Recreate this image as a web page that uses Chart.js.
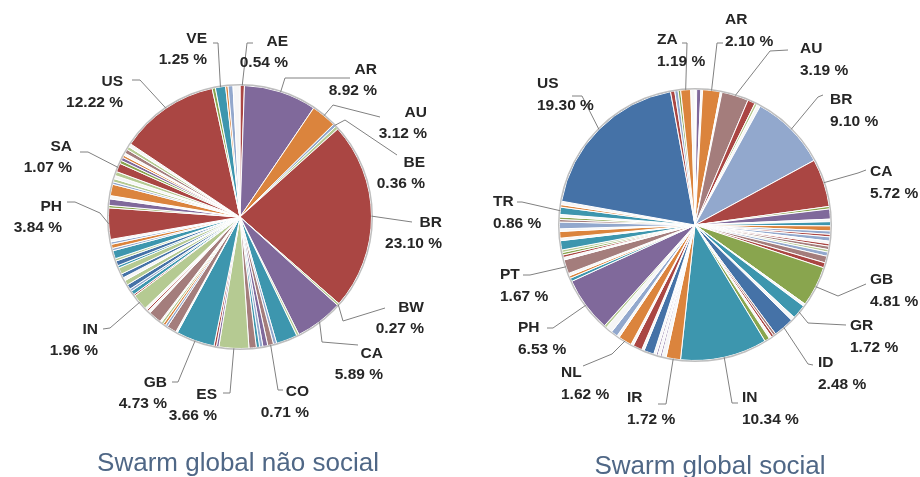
<!DOCTYPE html>
<html>
<head>
<meta charset="utf-8">
<script src="https://cdn.jsdelivr.net/npm/chart.js@4.4.1/dist/chart.umd.min.js"></script>
<style>
  html, body { margin: 0; padding: 0; background: #ffffff; }
  #wrap { position: relative; width: 920px; height: 477px; overflow: hidden; }
  #wrap canvas { position: absolute; top: 0; }
</style>
</head>
<body>
<div id="wrap">
  <canvas id="nonSocial" width="460" height="477" style="left:0px"></canvas>
  <canvas id="social" width="460" height="477" style="left:460px"></canvas>
</div>
<script>
// ---- Data: share of peers per country (%), slices in order, '' = unlabelled country ----
const nonSocialTitle = 'Swarm global não social';
const nonSocialCountries = [
  'AE', 'AR', 'AU', 'BE', '', 'BR', 'BW', 'CA', '', '', '', 'CO', '', '', '', '', 'ES', '', '', 'GB',
  '', '', '', '', '', '', '', '', '', '', 'IN',
  '', '', '', '', '', '', '', '', '', '', '', '', '', '', '', '', 'PH',
  '', '', '', '', '', '', '', '', 'SA',
  '', '', '', '', '', '', '', 'US',
  '', 'VE', '', '', ''
];
const nonSocialShares = [
  0.54, 8.92, 3.12, 0.36, 0.40, 23.10, 0.27, 5.89, 0.30, 2.60, 0.40, 0.71, 0.60, 0.40, 0.40, 0.90, 3.66, 0.30, 0.30, 4.73,
  0.20, 1.20, 0.30, 0.30, 0.30, 0.20, 1.60, 0.30, 0.20, 0.30, 1.96,
  0.20, 0.50, 0.30, 0.60, 0.60, 0.40, 0.50, 0.80, 0.30, 0.60, 0.30, 1.00, 0.30, 0.50, 0.30, 0.30, 3.84,
  0.30, 0.80, 0.40, 1.40, 0.30, 0.40, 0.40, 0.50, 1.07,
  0.40, 0.40, 0.30, 0.30, 0.50, 0.40, 0.40, 12.22,
  0.40, 1.25, 0.30, 0.60, 0.85
];

const socialTitle = 'Swarm global social';
const socialCountries = [
  '', '', '', 'AR', '', 'AU', '', '', '', 'BR', 'CA',
  '', '', '', '', '', '', '', '', '', '', '', '', '', '', '', 'GB',
  '', 'GR', '', 'ID', '', '', '', '', 'IN', 'IR',
  '', '', '', '', '', '', '', '', '', 'NL',
  '', '', '', '', 'PH',
  '', '', '', 'PT',
  '', '', '', '', '', '', '', '', '', '', '', '', 'TR',
  '', '', 'US',
  '', '', '', 'ZA', ''
];
const socialShares = [
  0.20, 0.50, 0.20, 2.10, 0.20, 3.19, 0.90, 0.30, 0.40, 9.10, 5.72,
  0.30, 1.20, 0.30, 0.50, 0.60, 0.40, 0.30, 0.50, 0.30, 0.30, 0.40, 0.30, 0.50, 0.80, 0.60, 4.81,
  0.30, 1.72, 0.45, 2.48, 0.30, 0.30, 0.30, 0.60, 10.34, 1.72,
  0.50, 0.20, 0.30, 0.20, 0.30, 1.20, 0.30, 1.10, 0.30, 1.62,
  0.30, 0.80, 0.80, 0.30, 6.53,
  0.40, 0.30, 0.30, 1.67,
  0.30, 0.30, 0.30, 0.30, 1.10, 0.30, 0.80, 0.30, 0.80, 0.30, 0.30, 0.30, 0.86,
  0.30, 0.40, 19.30,
  0.50, 0.40, 0.30, 1.19, 0.50
];

// ---- Styling ----
const palette = {
  B: '#4572A7', R: '#AA4643', G: '#89A54E', P: '#80699B', T: '#3D96AE',
  O: '#DB843D', LB: '#92A8CD', M: '#A47D7C', LG: '#B5CA92', W: '#f6f6f6'
};
const nonSocialColors = [
  'R', 'P', 'O', 'LB', 'LG', 'R', 'LG', 'P', 'LG', 'T', 'LB', 'M', 'P', 'LB', 'T', 'M', 'LG', 'P', 'R', 'T',
  'W', 'M', 'LB', 'O', 'LG', 'W', 'M', 'W', 'R', 'W', 'LG',
  'R', 'T', 'LB', 'B', 'LG', 'W', 'B', 'LG', 'T', 'B', 'LG', 'T', 'LB', 'O', 'LB', 'W', 'R',
  'G', 'P', 'W', 'O', 'LB', 'LG', 'W', 'LG', 'R',
  'G', 'P', 'O', 'W', 'M', 'LG', 'W', 'R',
  'G', 'T', 'O', 'LB', 'W'
];
const socialColors = [
  'W', 'P', 'W', 'O', 'W', 'M', 'R', 'LG', 'W', 'LB', 'R',
  'G', 'P', 'W', 'T', 'O', 'LB', 'R', 'LB', 'W', 'R', 'M', 'LG', 'LB', 'M', 'R', 'G',
  'W', 'T', 'W', 'B', 'M', 'R', 'W', 'G', 'T', 'O',
  'W', 'P', 'W', 'P', 'W', 'B', 'W', 'R', 'W', 'O',
  'W', 'LB', 'W', 'LG', 'P',
  'T', 'O', 'W', 'M',
  'W', 'R', 'G', 'LG', 'T', 'W', 'O', 'W', 'LB', 'M', 'G', 'W', 'T',
  'O', 'W', 'B',
  'R', 'LB', 'G', 'O', 'W'
];

const labelFont = 'bold 15.5px "Liberation Sans", Arial, sans-serif';
const titleFont = '26px "Liberation Sans", Arial, sans-serif';

// Callout placement: text anchor (x, y of the code line) and the bends of the leader
const nonSocialCallouts = {
  VE: { x: 207, y: 39, path: [[218, 43], [213, 43]] },
  AE: { x: 288, y: 42, path: [[247, 43], [253, 43]] },
  AR: { x: 377, y: 70, path: [[285, 78], [350, 78]] },
  AU: { x: 427, y: 113, path: [[333, 105], [380, 117]] },
  BE: { x: 425, y: 163, path: [[345, 120], [397, 155]] },
  BR: { x: 442, y: 223, path: [[412, 222]] },
  BW: { x: 424, y: 308, path: [[343, 321], [385, 308]] },
  CA: { x: 383, y: 354, path: [[322, 342], [358, 345]] },
  CO: { x: 309, y: 392, path: [[278, 390], [283, 390]] },
  ES: { x: 217, y: 395, path: [[230, 393], [223, 393]] },
  GB: { x: 167, y: 383, path: [[178, 382], [172, 382]] },
  IN: { x: 98, y: 330, path: [[110, 328], [103, 329]] },
  PH: { x: 62, y: 207, path: [[100, 213], [75, 202], [67, 202]] },
  SA: { x: 72, y: 147, path: [[88, 152], [80, 152]] },
  US: { x: 123, y: 82, path: [[140, 80], [132, 80]] }
};
const socialCallouts = {
  US: { x: 77, y: 84, path: [[122, 96], [112, 96]] },
  ZA: { x: 197, y: 40, path: [[227, 43], [222, 43]] },
  AR: { x: 265, y: 20, path: [[257, 43], [263, 43]] },
  AU: { x: 340, y: 49, path: [[310, 51], [328, 50]] },
  BR: { x: 370, y: 100, path: [[358, 97], [363, 95]] },
  CA: { x: 410, y: 172, path: [[398, 173], [406, 170]] },
  GB: { x: 410, y: 280, path: [[378, 296], [406, 284]] },
  GR: { x: 390, y: 326, path: [[348, 323], [386, 325]] },
  ID: { x: 358, y: 363, path: [[348, 364], [353, 365]] },
  IN: { x: 282, y: 398, path: [[272, 403], [278, 403]] },
  IR: { x: 167, y: 398, path: [[206, 404], [198, 404]] },
  NL: { x: 101, y: 373, path: [[152, 354], [123, 366]] },
  PH: { x: 58, y: 328, path: [[93, 328], [87, 328]] },
  PT: { x: 40, y: 275, path: [[70, 275], [63, 275]] },
  TR: { x: 33, y: 202, path: [[62, 202], [57, 202]] }
};

// Draws the rim, the leader lines with their country/percentage labels, and the caption
function makeCallouts(spots, align, lineGap, title, titleX, titleY) {
  return {
    id: 'callouts',
    afterDatasetsDraw(chart) {
      const ctx = chart.ctx;
      const meta = chart.getDatasetMeta(0);
      const codes = chart.data.labels;
      const values = chart.data.datasets[0].data;
      const first = meta.data[0];
      ctx.save();
      ctx.beginPath();
      ctx.arc(first.x, first.y, first.outerRadius + 0.8, 0, Math.PI * 2);
      ctx.strokeStyle = 'rgba(110,110,110,0.45)';
      ctx.lineWidth = 1.4;
      ctx.stroke();

      ctx.font = labelFont;
      ctx.textBaseline = 'middle';
      ctx.textAlign = align;
      meta.data.forEach((arc, i) => {
        const spot = spots[codes[i]];
        if (!codes[i] || !spot) return;
        const mid = (arc.startAngle + arc.endAngle) / 2;
        const px = arc.x + Math.cos(mid) * arc.outerRadius;
        const py = arc.y + Math.sin(mid) * arc.outerRadius;
        ctx.beginPath();
        ctx.moveTo(px, py);
        spot.path.forEach(([x, y]) => ctx.lineTo(x, y));
        ctx.strokeStyle = '#808080';
        ctx.lineWidth = 1;
        ctx.stroke();
        ctx.fillStyle = '#262626';
        ctx.fillText(codes[i], spot.x, spot.y);
        ctx.fillText(values[i].toFixed(2) + ' %', spot.x, spot.y + lineGap);
      });

      ctx.font = titleFont;
      ctx.fillStyle = '#4f6786';
      ctx.textAlign = 'center';
      ctx.textBaseline = 'alphabetic';
      ctx.fillText(title, titleX, titleY);
      ctx.restore();
    }
  };
}

function drawPie(canvasId, countries, shares, colors, padding, callouts) {
  return new Chart(document.getElementById(canvasId), {
    type: 'pie',
    data: {
      labels: countries,
      datasets: [{
        data: shares,
        backgroundColor: colors.map(k => palette[k]),
        borderColor: '#ffffff',
        borderWidth: 1
      }]
    },
    options: {
      responsive: false,
      animation: false,
      layout: { padding },
      plugins: { legend: { display: false }, tooltip: { enabled: true } }
    },
    plugins: [callouts]
  });
}

drawPie('nonSocial', nonSocialCountries, nonSocialShares, nonSocialColors,
  { left: 108, right: 88, top: 85, bottom: 128 },
  makeCallouts(nonSocialCallouts, 'right', 21, nonSocialTitle, 238, 471));

drawPie('social', socialCountries, socialShares, socialColors,
  { left: 99, right: 89, top: 89, bottom: 116 },
  makeCallouts(socialCallouts, 'left', 22, socialTitle, 250, 474));
</script>
</body>
</html>
